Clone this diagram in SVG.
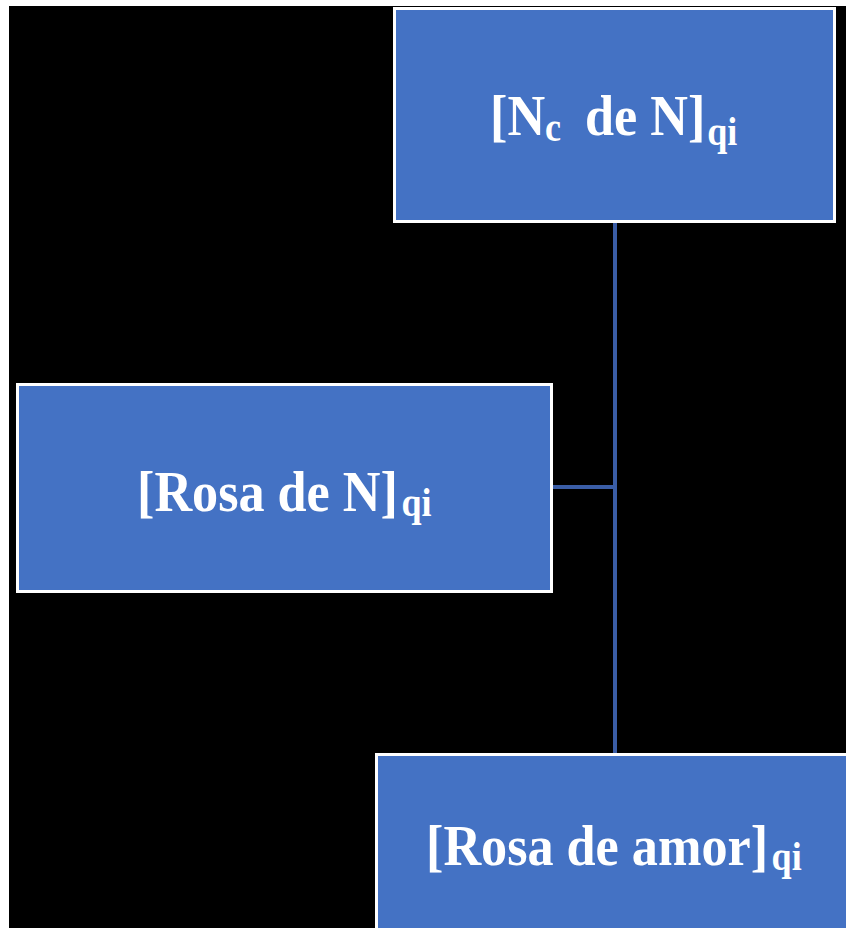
<svg xmlns="http://www.w3.org/2000/svg" width="846" height="928" viewBox="0 0 846 928">
<style>
.box{fill:#4472C4;stroke:#FFFFFF;stroke-width:3}
.lbl{font-family:"Liberation Serif","Times New Roman",serif;font-weight:bold;fill:#FFFFFF;font-size:58px}
.sub{font-size:40px}
.conn{stroke:#3A5DA6;stroke-width:4;fill:none}
</style>
<rect x="0" y="0" width="846" height="928" fill="#FFFFFF"/>
<rect x="9" y="6" width="837" height="922" fill="#000000"/>
<g id="connectors">
<line class="conn" x1="615" y1="223" x2="615" y2="753"/>
<line class="conn" x1="553" y1="487" x2="615" y2="487"/>
</g>
<g id="node-top">
<rect class="box" x="394.5" y="8.5" width="440" height="213"/>
<text class="lbl" transform="translate(490,135) scale(0.9,1)"><tspan x="0" y="0">[N</tspan><tspan class="sub" y="6">c</tspan><tspan x="105.6" y="0">de N]</tspan><tspan class="sub" dx="2" y="10">qi</tspan></text>
</g>
<g id="node-middle">
<rect class="box" x="17.5" y="384.5" width="534" height="207"/>
<text class="lbl" transform="translate(137,511) scale(0.9,1)"><tspan x="0" y="0">[Rosa de N]</tspan><tspan class="sub" dx="4" y="5">qi</tspan></text>
</g>
<g id="node-bottom">
<rect class="box" x="376.5" y="754.5" width="480" height="200"/>
<text class="lbl" transform="translate(426,865) scale(0.9,1)"><tspan x="0" y="0">[Rosa de amor]</tspan><tspan class="sub" dx="4" y="5">qi</tspan></text>
</g>
</svg>
